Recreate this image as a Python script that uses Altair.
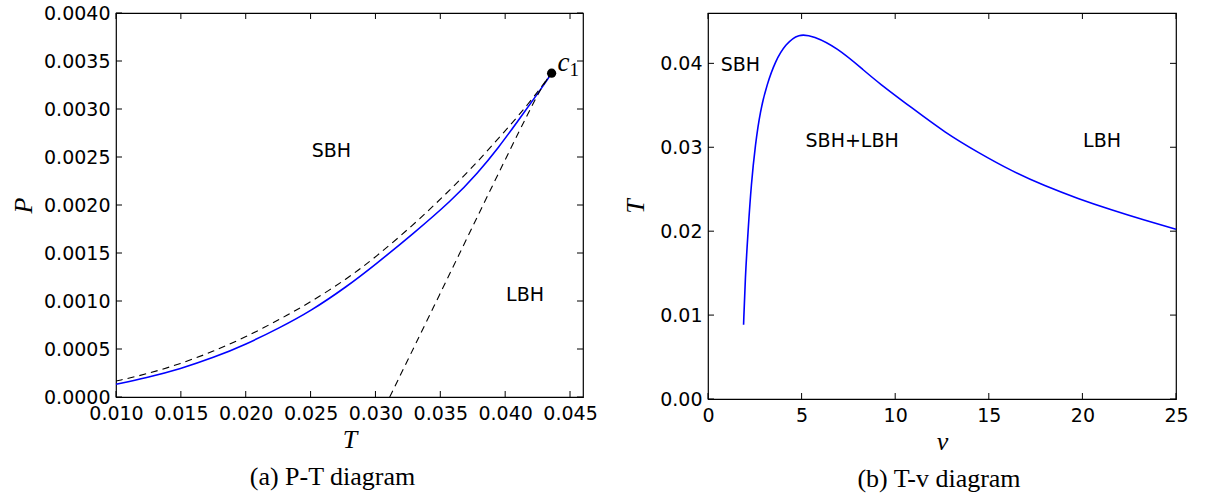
import altair as alt
import pandas as pd

# ---------------- data: panel (a) P-T ----------------
coex_T = [0.010, 0.0123, 0.015, 0.0175, 0.020, 0.0226, 0.025, 0.0278, 0.030, 0.0329,
          0.0359, 0.0379, 0.0395, 0.0410, 0.0423, 0.0433, 0.04355]
coex_P = [0.000132, 0.000198, 0.000295, 0.000409, 0.000547, 0.000720, 0.000894, 0.00115,
          0.00138, 0.0017, 0.00205, 0.002335, 0.0026, 0.002879, 0.003122, 0.003313, 0.00337]

dash1_T = [0.010, 0.0123, 0.015, 0.0175, 0.020, 0.0226, 0.025, 0.0278, 0.030, 0.0329,
           0.0352, 0.0374, 0.0396, 0.0418, 0.04355]
dash1_P = [0.000166, 0.000236, 0.000347, 0.000475, 0.000624, 0.000807, 0.000988, 0.00123,
           0.001455, 0.00179, 0.002084, 0.00238, 0.00271, 0.00305, 0.00337]

dash2_T = [0.0311, 0.0350, 0.0384, 0.0413, 0.0428, 0.04355]
dash2_P = [0.0, 0.00108, 0.00203, 0.00283, 0.00323, 0.00337]

crit_T = [0.04358]
crit_P = [0.003373]

regA_label = ["SBH", "LBH"]
regA_T = [0.0266, 0.04153]
regA_P = [0.002567, 0.001058]

xA_ticks = [0.010, 0.015, 0.020, 0.025, 0.030, 0.035, 0.040, 0.045]
yA_ticks = [0.0, 0.0005, 0.0010, 0.0015, 0.0020, 0.0025, 0.0030, 0.0035, 0.0040]

# ---------------- data: panel (b) T-v ----------------
tv_v = [1.90, 1.99, 2.14, 2.31, 2.53, 2.79, 3.15, 3.60, 4.13, 4.84, 5.64, 6.89, 8.31, 9.10,
        10.88, 12.66, 14.44, 16.21, 17.99, 19.77, 21.55, 23.33, 25.0]
tv_T = [0.00885, 0.01448, 0.02004, 0.0256, 0.03036, 0.03433, 0.0375, 0.04028, 0.04226, 0.04357,
        0.04325, 0.04187, 0.0392, 0.03769, 0.03471, 0.03174, 0.02936, 0.02718, 0.02539, 0.02388,
        0.02254, 0.02131, 0.02024]

regB_label = ["SBH", "SBH+LBH", "LBH"]
regB_v = [1.73, 7.70, 21.05]
regB_T = [0.03976, 0.03075, 0.03075]

xB_ticks = [0, 5, 10, 15, 20, 25]
yB_ticks = [0.0, 0.01, 0.02, 0.03, 0.04]

# ---------------- styling ----------------
WA, HA = 467, 384
WB, HB = 468, 386
TICK = 6
LABEL_FONT = "DejaVu Sans"
LABEL_SIZE = 19
SERIF = "Liberation Serif"


def axis(values, fmt, title, pad, tpad):
    return alt.Axis(values=values, format=fmt, ticks=False, domain=False, grid=False,
                    labelFont=LABEL_FONT, labelFontSize=LABEL_SIZE, labelColor="black",
                    labelPadding=pad, labelOverlap=False, labelFlush=False,
                    title=title, titleFont=SERIF, titleFontStyle="italic",
                    titleFontWeight="normal", titleFontSize=26, titleColor="black",
                    titlePadding=tpad)


def panel(layers_spec, xticks, yticks, xscale, yscale, xfmt, yfmt, xtitle, ytitle, W, H, ytpad):
    ax_x = axis(xticks, xfmt, xtitle, 7, 3)
    ax_y = axis(yticks, yfmt, ytitle, 6, ytpad)
    charts = []
    for data, mark, xf, yf, extra in layers_spec:
        enc = dict(x=alt.X(xf, scale=xscale, axis=ax_x), y=alt.Y(yf, scale=yscale, axis=ax_y))
        enc.update(extra)
        charts.append(mark(alt.Chart(data)).encode(**enc))
    dx = pd.DataFrame({"t": xticks})
    dy = pd.DataFrame({"t": yticks})
    xe = alt.X("t:Q", scale=xscale, axis=ax_x)
    ye = alt.Y("t:Q", scale=yscale, axis=ax_y)
    rx = alt.Chart(dx).mark_rule(color="black", strokeWidth=1)
    ry = alt.Chart(dy).mark_rule(color="black", strokeWidth=1)
    charts += [
        rx.encode(x=xe, y=alt.value(H), y2=alt.value(H - TICK)),
        rx.encode(x=xe, y=alt.value(0), y2=alt.value(TICK)),
        ry.encode(y=ye, x=alt.value(0), x2=alt.value(TICK)),
        ry.encode(y=ye, x=alt.value(W), x2=alt.value(W - TICK)),
    ]
    return alt.layer(*charts)


BLUE = dict(color="#0000ff", strokeWidth=1.6, interpolate="basis")
DASH = dict(color="black", strokeWidth=1.1, strokeDash=[7, 5], interpolate="basis")
CAPTION = dict(orient="bottom", font=SERIF, fontSize=26, fontWeight="normal", color="black",
               offset=12)

# ---------------- panel (a) ----------------
xsA = alt.Scale(domain=[0.010, 0.046], nice=False, zero=False)
ysA = alt.Scale(domain=[0.0, 0.004], nice=False, zero=False)

df_coex = pd.DataFrame({"T": coex_T, "P": coex_P})
df_d1 = pd.DataFrame({"T": dash1_T, "P": dash1_P})
df_d2 = pd.DataFrame({"T": dash2_T, "P": dash2_P})
df_crit = pd.DataFrame({"T": crit_T, "P": crit_P})
df_regA = pd.DataFrame({"T": regA_T, "P": regA_P, "label": regA_label})

specA = [
    (df_coex, lambda c: c.mark_line(**BLUE), "T:Q", "P:Q", {}),
    (df_d1, lambda c: c.mark_line(**DASH), "T:Q", "P:Q", {}),
    (df_d2, lambda c: c.mark_line(**DASH), "T:Q", "P:Q", {}),
    (df_crit, lambda c: c.mark_circle(color="black", size=85, opacity=1), "T:Q", "P:Q", {}),
    (df_crit, lambda c: c.mark_text(text="c", font=SERIF, fontStyle="italic", fontSize=27,
                                    align="left", baseline="middle", dx=6, dy=-10, color="black"),
     "T:Q", "P:Q", {}),
    (df_crit, lambda c: c.mark_text(text="1", font=SERIF, fontSize=19, align="left",
                                    baseline="middle", dx=18, dy=-3, color="black"),
     "T:Q", "P:Q", {}),
    (df_regA, lambda c: c.mark_text(font=LABEL_FONT, fontSize=LABEL_SIZE, color="black",
                                    align="center", baseline="middle"),
     "T:Q", "P:Q", {"text": "label:N"}),
]
panelA = panel(specA, xA_ticks, yA_ticks, xsA, ysA, ".3f", ".4f", "T", "P", WA, HA, 7).properties(
    width=WA, height=HA,
    title=alt.TitleParams("(a)  P-T diagram", dx=-17, **CAPTION),
)

# ---------------- panel (b) ----------------
xsB = alt.Scale(domain=[0, 25], nice=False, zero=False)
ysB = alt.Scale(domain=[0.0, 0.046], nice=False, zero=False)

df_tv = pd.DataFrame({"v": tv_v, "T": tv_T})
df_regB = pd.DataFrame({"v": regB_v, "T": regB_T, "label": regB_label})

specB = [
    (df_tv, lambda c: c.mark_line(**BLUE), "v:Q", "T:Q", {}),
    (df_regB, lambda c: c.mark_text(font=LABEL_FONT, fontSize=LABEL_SIZE, color="black",
                                    align="center", baseline="middle"),
     "v:Q", "T:Q", {"text": "label:N"}),
]
panelB = panel(specB, xB_ticks, yB_ticks, xsB, ysB, "d", ".2f", "v", "T", WB, HB, 11).properties(
    width=WB, height=HB,
    title=alt.TitleParams("(b)  T-v diagram", dx=-3, **CAPTION),
)

chart = alt.hconcat(panelA, panelB, spacing=24).properties(
    padding={"left": 9, "top": 3, "right": 5, "bottom": 5},
    background="white",
).configure_view(stroke="black", strokeWidth=1.2)

chart.save("out.html", embed_options={"renderer": "svg", "actions": False})
